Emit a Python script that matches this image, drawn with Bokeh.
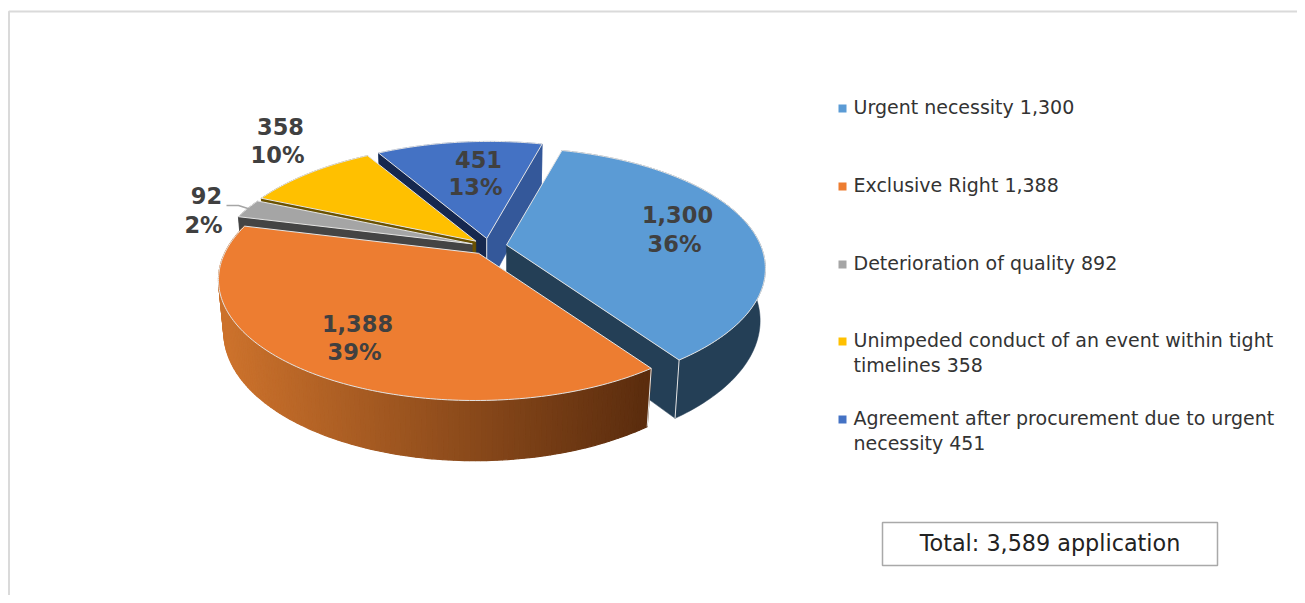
import math
from bokeh.plotting import figure
from bokeh.models import Range1d
from bokeh.core.properties import value
from bokeh.embed import file_html
from bokeh.resources import INLINE

# ---- data
categories = ["Urgent necessity 1,300", "Exclusive Right 1,388", "Deterioration of quality 892",
              "Unimpeded conduct of an event within tight\ntimelines 358",
              "Agreement after procurement due to urgent\nnecessity 451"]
values = [1300, 1388, 92, 358, 451]
count_labels = ["1,300", "1,388", "92", "358", "451"]
pct_labels = ["36%", "39%", "2%", "10%", "13%"]
total_label = "Total: 3,589 application"

# ---- style
top_colors = ["#5B9BD5", "#ED7D31", "#A5A5A5", "#FFC000", "#4472C4"]
arc_wall = ["#243F56", None, "#444444", "#6B5200", "#34589A"]
start_wall = [None, None, "#444444", "#6B5200", "#16284F"]
end_wall = ["#243F56", None, None, None, "#34589A"]
corner_edges = [("end",), ("start",), (), (), ("apex",)]
paint_order = [4, 3, 2, 0, 1]
FONT = "DejaVu Sans"
EDGE = "#E4E4E4"

# ---- page (data units equal picture pixels)
W, H = 1297, 595
p = figure(width=W, height=H, x_range=Range1d(0, W), y_range=Range1d(H, 0),
           output_backend="svg", toolbar_location=None, min_border=0,
           background_fill_color="white", border_fill_color="white", outline_line_color=None)
p.axis.visible = False
p.grid.visible = False

# frame
p.line([8.5, 8.5, W], [H, 11, 11], line_color="#DADADA", line_width=2)

# ---- 3D projection
CX, CY = 488.5, 246.0
RX, RY, PERSP, EXPLODE = 254.0, 117.0, 0.205, 0.07
DROP, SHRINK, SHEAR = 52.0, 0.02, 0.025
START_DEG = 14.5


def proj(r, deg, z=0.0):
    t = math.radians(deg)
    X, Y = r * math.sin(t), r * math.cos(t)
    w = 1 + PERSP * Y + SHRINK * z
    sy = -RY * Y / w
    return RX * X / w - SHEAR * sy, sy + DROP * z / w


def mix(c1, c2, f):
    a = [int(c1[i:i + 2], 16) for i in (1, 3, 5)]
    b = [int(c2[i:i + 2], 16) for i in (1, 3, 5)]
    return "#%02x%02x%02x" % tuple(round(a[i] + (b[i] - a[i]) * f) for i in range(3))


total = sum(values)
angles = []
cur = START_DEG
for v in values:
    angles.append((cur, cur + 360.0 * v / total))
    cur += 360.0 * v / total

for i in paint_order:
    a0, a1 = angles[i]
    mid = (a0 + a1) / 2
    ex, ey = proj(EXPLODE, mid)
    ax, ay = CX + ex, CY + ey
    n = max(4, int((a1 - a0)))
    degs = [a0 + (a1 - a0) * k / n for k in range(n + 1)]

    def pt(r, d, z=0.0):
        x, y = proj(r, d, z)
        return ax + x, ay + y

    # outer wall
    if arc_wall[i] is None:
        xs, ys, cols = [], [], []
        for k in range(n):
            q = [pt(1, degs[k]), pt(1, degs[k + 1]), pt(1, degs[k + 1], 1), pt(1, degs[k], 1)]
            xs.append([c[0] for c in q])
            ys.append([c[1] for c in q])
            f = min(1, max(0, (q[0][0] - 225) / (644 - 225)))
            cols.append(mix("#CC722C", "#5C2D0E", f))
        p.patches(xs, ys, fill_color=cols, line_color=cols, line_width=1.2)
    else:
        up = [pt(1, d) for d in degs]
        lo = [pt(1, d, 1) for d in reversed(degs)]
        p.patch([c[0] for c in up + lo], [c[1] for c in up + lo],
                fill_color=arc_wall[i], line_color=arc_wall[i], line_width=0.5)
    # visible radial faces
    for d, col in ((a0, start_wall[i]), (a1, end_wall[i])):
        if col is None:
            continue
        tl, tr = pt(0, d), pt(1, d)
        br, bl = pt(1, d, 1), pt(0, d, 1)
        p.patch([tl[0], tr[0], br[0], bl[0]], [tl[1], tr[1], br[1], bl[1]],
                fill_color=col, line_color=col, line_width=0.5)
    # light corner edges
    for kind in corner_edges[i]:
        r, d = {"start": (1, a0), "end": (1, a1), "apex": (0, a0)}[kind]
        t, b = pt(r, d), pt(r, d, 1)
        p.line([t[0], b[0]], [t[1], b[1]], line_color=EDGE, line_width=1)
    # top surface
    outline = [pt(0, a0)] + [pt(1, d) for d in degs]
    p.patch([c[0] for c in outline], [c[1] for c in outline],
            fill_color=top_colors[i], line_color=EDGE, line_width=1)

# ---- data labels
count_pos = [(677, 214), (357, 323), (206, 195), (280, 126), (478, 159)]
pct_pos = [(674, 243), (354, 351), (203, 224), (277, 154), (475, 186)]
for lab, (x, y) in zip(count_labels + pct_labels, count_pos + pct_pos):
    p.text([x], [y], text=[lab], text_font=value(FONT), text_font_size="22.5px",
           text_font_style="bold", text_color="#404040",
           text_align="center", text_baseline="middle")

# leader for the small slice
p.line([226, 238, 249], [205, 205, 208.5], line_color="#A6A6A6", line_width=1.4)

# ---- legend
legend_y = [108, 186, 264, 341, 419]
for cat, col, y in zip(categories, top_colors, legend_y):
    p.rect([842], [y], width=8, height=8, fill_color=col, line_color=None)
    for j, line in enumerate(cat.split("\n")):
        p.text([853], [y - 2 + j * 25], text=[line], text_font=value(FONT), text_font_size="19px",
               text_color="#333333", text_align="left", text_baseline="middle")

# ---- total box
p.rect([1049.5], [543.5], width=335, height=43, fill_color="white",
       line_color="#A9A9A9", line_width=1.5)
p.text([1049.5], [542], text=[total_label], text_font=value(FONT), text_font_size="22.3px",
       text_color="#222222", text_align="center", text_baseline="middle")

open("out.html", "w").write(file_html(p, INLINE))
